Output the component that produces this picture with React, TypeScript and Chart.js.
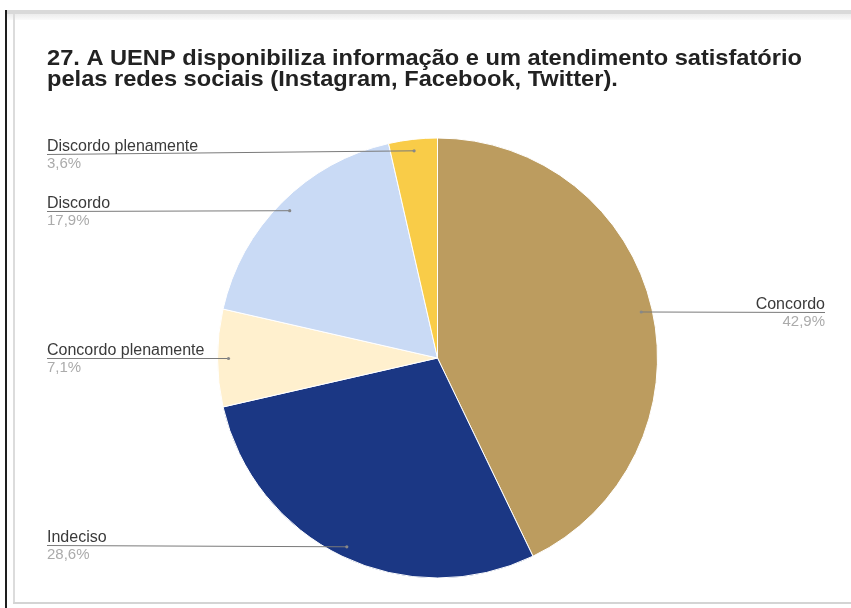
import React, { useEffect, useRef } from "react";
import { Chart, registerables } from "chart.js";

Chart.register(...registerables);

const TITLE_LINES = [
  "27. A UENP disponibiliza informação e um atendimento satisfatório",
  "pelas redes sociais (Instagram, Facebook, Twitter).",
];
const CATEGORIES = ["Concordo", "Indeciso", "Concordo plenamente", "Discordo", "Discordo plenamente"];
const RESPONSES = [12, 8, 2, 5, 1];
const COLORS = ["#BC9C5F", "#1B3784", "#FFF0CE", "#C9DAF5", "#F9CC48"];

// label layout (side and y of the leader line)
const LABEL_SIDE = ["right", "left", "left", "left", "left"];
const LABEL_LINE_Y = [312, 545, 358, 211, 154];

const labelPlugin = {
  id: "pieLabels",
  afterDraw(chart: any) {
    const ctx = chart.ctx as CanvasRenderingContext2D;
    const meta = chart.getDatasetMeta(0);
    const total = RESPONSES.reduce((a, b) => a + b, 0);
    ctx.save();
    // title
    ctx.font = 'bold 22px "Liberation Sans", Arial, sans-serif';
    ctx.fillStyle = "#222";
    ctx.textBaseline = "alphabetic";
    ctx.textAlign = "left";
    const w1 = ctx.measureText(TITLE_LINES[0]).width;
    const sx = 755 / w1;
    const baselines = [64.5, 85.5];
    TITLE_LINES.forEach((t, i) => {
      ctx.save();
      ctx.translate(47, baselines[i]);
      ctx.scale(sx, 1);
      ctx.fillText(t, 0, 0);
      ctx.restore();
    });

    meta.data.forEach((arc: any, i: number) => {
      const p = arc.getProps(["x", "y", "startAngle", "endAngle", "outerRadius"], true);
      const mid = (p.startAngle + p.endAngle) / 2;
      const ax = p.x + Math.cos(mid) * p.outerRadius * 0.95;
      const ay = p.y + Math.sin(mid) * p.outerRadius * 0.95;
      const ly = LABEL_LINE_Y[i];
      const right = LABEL_SIDE[i] === "right";
      const tx = right ? 825 : 47;
      ctx.strokeStyle = "#7a7a7a";
      ctx.lineWidth = 1;
      ctx.beginPath();
      ctx.moveTo(tx, ly + 0.5);
      ctx.lineTo(ax, ay + 0.5);
      ctx.stroke();
      ctx.fillStyle = "#888";
      ctx.beginPath();
      ctx.arc(ax, ay + 0.5, 1.6, 0, Math.PI * 2);
      ctx.fill();
      ctx.textAlign = right ? "right" : "left";
      ctx.font = '16px "Liberation Sans", Arial, sans-serif';
      ctx.fillStyle = "#3a3a3a";
      ctx.fillText(CATEGORIES[i], tx, ly - 3);
      ctx.font = '15px "Liberation Sans", Arial, sans-serif';
      ctx.fillStyle = "#ababab";
      const pct = ((RESPONSES[i] / total) * 100).toFixed(1).replace(".", ",") + "%";
      ctx.fillText(pct, tx, ly + 14);
    });
    ctx.restore();
  },
};

export default function App() {
  const ref = useRef<HTMLCanvasElement>(null);
  useEffect(() => {
    if (!ref.current) return;
    const chart = new Chart(ref.current, {
      type: "pie",
      data: {
        labels: CATEGORIES,
        datasets: [
          {
            data: RESPONSES,
            backgroundColor: COLORS,
            borderColor: "#ffffff",
            borderWidth: 1,
          },
        ],
      },
      options: {
        responsive: false,
        animation: false,
        layout: { padding: { left: 217, right: 193, top: 137, bottom: 29 } },
        plugins: { legend: { display: false }, tooltip: { enabled: false }, title: { display: false } },
      },
      plugins: [labelPlugin],
    });
    return () => chart.destroy();
  }, []);

  return (
    <div style={{ position: "fixed", left: 0, top: 0, width: 851, height: 608, background: "#fff", overflow: "hidden" }}>
      <div style={{ position: "absolute", left: 5, top: 10, width: 2, height: 598, background: "#1e1e1e" }} />
      <div style={{ position: "absolute", left: 7, top: 10, width: 844, height: 4, background: "#d9d9d9" }} />
      <div style={{ position: "absolute", left: 7, top: 14, width: 844, height: 6, background: "linear-gradient(#ececec, #fafafa)" }} />
      <div style={{ position: "absolute", left: 13, top: 14, width: 2, height: 590, background: "#dcdcdc" }} />
      <div style={{ position: "absolute", left: 13, top: 602, width: 838, height: 2, background: "#d4d4d4" }} />
      <canvas ref={ref} width={851} height={608} style={{ position: "absolute", left: 0, top: 0 }} />
    </div>
  );
}
